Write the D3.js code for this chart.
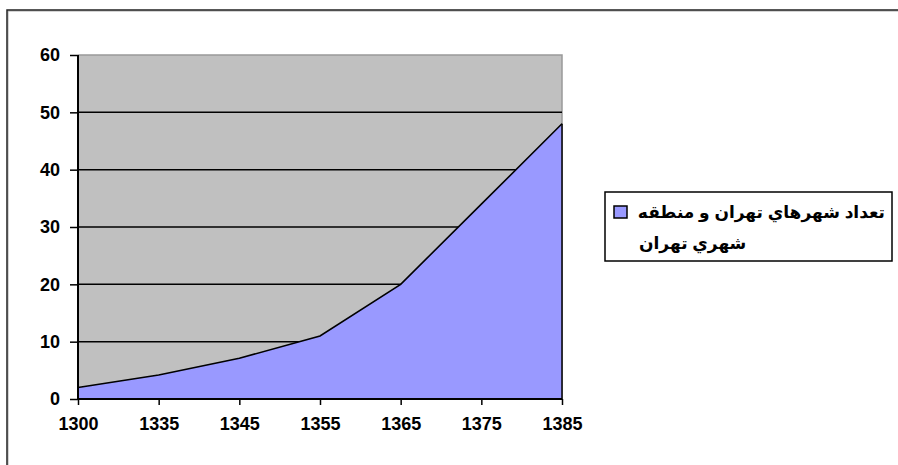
<!DOCTYPE html>
<html><head><meta charset="utf-8">
<script src="https://cdn.jsdelivr.net/npm/d3@7"></script>
<style>body{margin:0;background:#fff}svg{display:block}</style>
</head><body>
<svg id="c" width="898" height="465"></svg>
<script>
const categories = ["1300","1335","1345","1355","1365","1375","1385"];
const values = [2, 4.2, 7.1, 11, 20, 34, 48];
const yTicks = [0,10,20,30,40,50,60];
const legendLines = ["تعداد شهرهاي تهران و منطقه", "شهري تهران"];

const svg = d3.select("#c");
const font = "Arial, 'Liberation Sans', 'DejaVu Sans', sans-serif";

// outer frame
svg.append("rect").attr("x",8).attr("y",11).attr("width",1000).attr("height",1000)
  .attr("fill","none").attr("stroke","#aaa").attr("stroke-width",1);
svg.append("rect").attr("x",7).attr("y",10).attr("width",1000).attr("height",1000)
  .attr("fill","none").attr("stroke","#222").attr("stroke-width",1.5);

const L=78, R=562, T=55, B=399;
const x = d3.scalePoint().domain(categories).range([L,R]);
const y = d3.scaleLinear().domain([0,60]).range([B,T]);

svg.append("rect").attr("x",L).attr("y",T).attr("width",R-L).attr("height",B-T).attr("fill","#C0C0C0");
svg.append("path").attr("d",`M${L},${T}H${R}V${B}`).attr("fill","none").attr("stroke","#999").attr("stroke-width",1.5);

svg.append("g").selectAll("line").data(yTicks.filter(d=>d>0 && d<60)).join("line")
  .attr("x1",L).attr("x2",R).attr("y1",d=>y(d)).attr("y2",d=>y(d))
  .attr("stroke","#000").attr("stroke-width",1.5);

const pts = categories.map((c,i)=>[x(c), y(values[i])]);
const area = d3.area().x(d=>d[0]).y0(B).y1(d=>d[1]);
svg.append("path").datum(pts).attr("d",area).attr("fill","#9999FF");
svg.append("path").datum(pts).attr("d",d3.line()).attr("fill","none").attr("stroke","#000").attr("stroke-width",1.6);
svg.append("line").attr("x1",R).attr("x2",R).attr("y1",y(values[values.length-1])).attr("y2",B)
  .attr("stroke","#000").attr("stroke-width",1.5);

const yAxis = d3.axisLeft(y).tickValues(yTicks).tickSize(8).tickPadding(10);
const gy = svg.append("g").attr("transform",`translate(${L},0)`).call(yAxis);
const xAxis = d3.axisBottom(x).tickSize(6).tickPadding(12);
const gx = svg.append("g").attr("transform",`translate(0,${B})`).call(xAxis);
[gx,gy].forEach(g=>{
  g.select(".domain").attr("stroke","#000").attr("stroke-width",2);
  g.selectAll(".tick line").attr("stroke","#000").attr("stroke-width",1.5);
  g.selectAll("text").attr("fill","#000").attr("font-family",font).attr("font-weight","bold").attr("font-size",18);
});
gx.select(".domain").attr("d",`M${L},0H${R}`);
gy.select(".domain").attr("d",`M0,${T}V${B}`);

// legend
const lg = svg.append("g");
lg.append("rect").attr("x",605).attr("y",192).attr("width",287).attr("height",69)
  .attr("fill","#fff").attr("stroke","#000").attr("stroke-width",1.5);
lg.append("rect").attr("x",614).attr("y",206).attr("width",13).attr("height",12)
  .attr("fill","#9999FF").attr("stroke","#000").attr("stroke-width",1.5);
lg.append("text").attr("x",885).attr("y",218).attr("text-anchor","start").attr("direction","rtl")
  .attr("font-family",font).attr("font-weight","bold").attr("font-size",17).text(legendLines[0]);
lg.append("text").attr("x",639).attr("y",249).attr("text-anchor","end").attr("direction","rtl")
  .attr("font-family",font).attr("font-weight","bold").attr("font-size",17).text(legendLines[1]);
</script>
</body></html>
